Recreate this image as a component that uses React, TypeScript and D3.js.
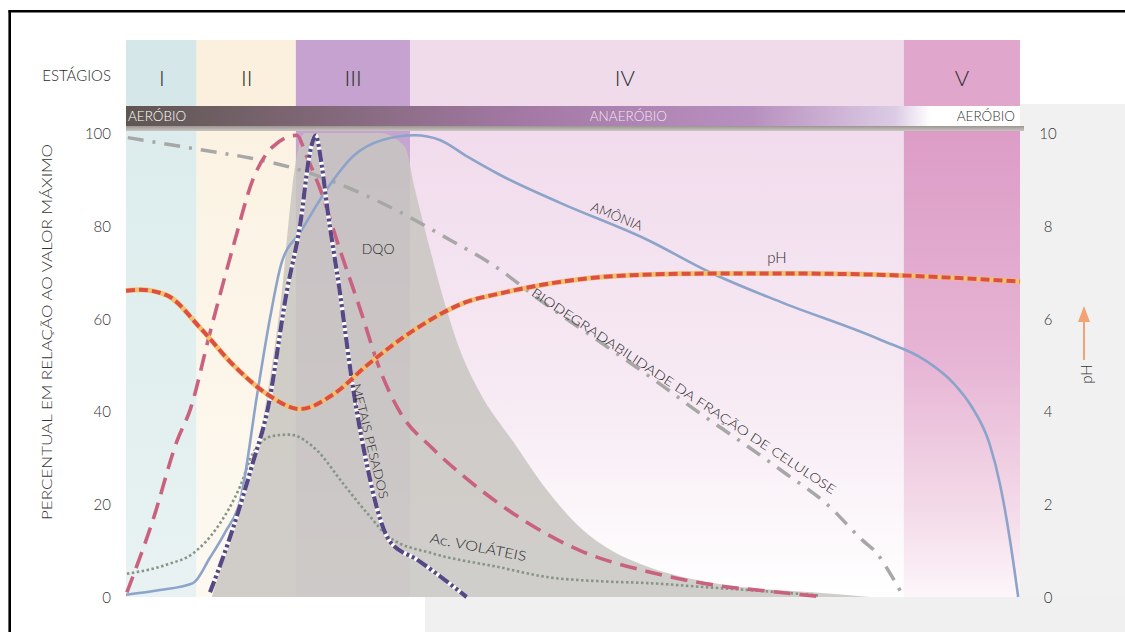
import React from 'react';
import * as d3 from 'd3';

const W = 1125;
const H = 632;

// stages (time in arbitrary units 0..100)
const stageNames = ['I', 'II', 'III', 'IV', 'V'];
const stageBounds = [0, 7.9, 19.0, 31.8, 87.0, 100];
const stageLabelT = [4.0, 13.5, 25.4, 55.8, 93.5];
const stageHeadColors = ['#d5e7e9', '#fbf0de', '#c5a2cf', '#f0dbeb', '#e0a6cb'];

const leftTicks = [0, 20, 40, 60, 80, 100];
const phTicks = [0, 2, 4, 6, 8, 10];

// Amônia (%)
const amoniaT = [0, 3.8, 7.5, 9.4, 11.1, 12.8, 14.7, 16.1, 17.4, 19.5, 22.5, 25.4, 28.7, 32.3, 35.1, 38.1, 41.8, 48.5, 58.3, 65.3, 73.2, 84.3, 89.4, 92.6, 94.6, 96.6, 97.8, 98.9, 99.8];
const amoniaV = [0.5, 1.5, 3, 8.5, 14, 21, 44, 60, 72, 78.6, 88, 95, 98.5, 99.5, 98.5, 95, 91, 85, 77, 70, 63.6, 55.5, 51, 46, 41, 33, 24, 12, 0];

// pH
const phT = [0, 1.6, 4.6, 8.3, 12.0, 15.8, 19.5, 23.2, 27.0, 32.6, 38.1, 41.8, 50.8, 58.6, 65.3, 75.4, 86.6, 95.5, 100];
const phV = [6.6, 6.62, 6.5, 5.8, 5.0, 4.37, 4.05, 4.37, 5.0, 5.8, 6.36, 6.54, 6.85, 6.95, 6.97, 6.97, 6.93, 6.85, 6.8];

// curva tracejada rosa (%)
const rosaT = [0.1, 3.0, 5.7, 7.2, 9.4, 12.0, 14.2, 16.4, 19.1, 20.2, 21.7, 23.9, 26.2, 28.4, 30.6, 34.3, 38.1, 44.1, 50.8, 58.3, 65.7, 72.1, 78.2];
const rosaV = [1, 16.5, 33.6, 40.5, 57, 75.6, 90, 97, 99.5, 95, 88, 75, 62, 49, 40, 32, 25.5, 17, 10, 5.5, 2.6, 1.2, 0];

// Metais pesados (%)
const metaisT = [9.4, 12.0, 14.2, 15.8, 18.0, 19.5, 20.6, 21.2, 21.9, 22.5, 23.9, 25.4, 27.0, 28.4, 29.5, 32.6, 35.1, 38.1];
const metaisV = [1, 15, 29, 40, 66, 80.5, 96, 99.5, 93, 84, 66, 45, 28, 17, 12, 8, 4.5, 0];

// Ác. voláteis (%)
const volateisT = [0.1, 4.6, 7.5, 10.2, 12.8, 14.2, 16.4, 18.3, 21.4, 24.3, 27.0, 29.5, 34.3, 41.8, 47.1, 53.0, 58.3, 65.7, 73.2, 77.6];
const volateisV = [5, 7, 9.4, 15, 24, 31, 34.7, 35, 31.5, 24.4, 18, 12.8, 9.4, 6.4, 4.3, 3.4, 3, 2, 1, 0.3];

// Biodegradabilidade da fração de celulose (%)
const biodegT = [0.2, 8.3, 13.9, 19.5, 25.1, 30.6, 36.2, 41.1, 46.3, 53.0, 60.1, 63.9, 68.7, 73.5, 78.4, 82.4, 84.0, 85.5, 87.0];
const biodegV = [99, 96.4, 94.6, 92, 88, 83, 77, 71.5, 64, 55, 45.4, 40, 33.6, 27, 20, 12.2, 9.4, 5, 0];

// DQO (%), área cinza
const dqoT = [9.6, 12.2, 15.0, 17.2, 19.1, 20.0, 28.4, 31.2, 32.3, 34.0, 35.7, 37.4, 39.6, 43.3, 47.1, 50.8, 54.5, 58.3, 65.7, 76.8, 83.2];
const dqoV = [0, 17, 35, 62, 95, 100, 100, 97, 88, 75, 63, 53, 44, 33.5, 23, 15, 9.8, 6.6, 3, 1, 0];

const FONT = 'Lato, "Open Sans", "DejaVu Sans", sans-serif';

const App: React.FC = () => {
  const x = d3.scaleLinear().domain([0, 100]).range([126, 1020]);
  const y = d3.scaleLinear().domain([0, 100]).range([597, 133]);
  const yPh = d3.scaleLinear().domain([0, 10]).range([597, 133]);

  const path = (ts: number[], vs: number[], sy: d3.ScaleLinear<number, number>) =>
    d3.line<number>()
      .x((_, i) => x(ts[i]))
      .y(d => sy(d))
      .curve(d3.curveMonotoneX)(vs) || '';

  const dqoArea = d3.area<number>()
    .x((_, i) => x(dqoT[i]))
    .y0(y(0))
    .y1(d => y(d))
    .curve(d3.curveMonotoneX)(dqoV) || '';

  const plotTop = y(100);
  const plotBottom = y(0);

  const label = (t: number, v: number, text: string, angle: number, size: number, len?: number) => {
    const px = x(t);
    const py = y(v);
    return (
      <text
        x={px}
        y={py}
        transform={`rotate(${angle},${px},${py})`}
        textAnchor="middle"
        dominantBaseline="central"
        fontSize={size}
        fontWeight={300}
        fill="#2b2b2b"
        textLength={len}
        lengthAdjust={len ? 'spacingAndGlyphs' : undefined}
      >
        {text}
      </text>
    );
  };

  return (
    <svg width={W} height={H} style={{ position: 'absolute', left: 0, top: 0, background: '#fff' }} fontFamily={FONT} fontWeight={300}>
      <defs>
        <linearGradient id="gI" x1="0" y1="0" x2="0" y2="1">
          <stop offset="0" stopColor="#dcecec" />
          <stop offset="1" stopColor="#e8f2f2" />
        </linearGradient>
        <linearGradient id="gII" x1="0" y1="0" x2="0" y2="1">
          <stop offset="0" stopColor="#fbf2e2" />
          <stop offset="1" stopColor="#fdf9f1" />
        </linearGradient>
        <linearGradient id="gIII" x1="0" y1="0" x2="0" y2="1">
          <stop offset="0" stopColor="#c6a3d0" />
          <stop offset="1" stopColor="#ebe0ee" />
        </linearGradient>
        <linearGradient id="gIV" x1="0" y1="0" x2="0" y2="1">
          <stop offset="0" stopColor="#f1dbec" />
          <stop offset="0.6" stopColor="#f7ebf4" />
          <stop offset="1" stopColor="#ffffff" />
        </linearGradient>
        <linearGradient id="gV" x1="0" y1="0" x2="0" y2="1">
          <stop offset="0" stopColor="#dc9cc6" />
          <stop offset="0.5" stopColor="#e7b5d5" />
          <stop offset="0.85" stopColor="#f5dfeb" />
          <stop offset="1" stopColor="#fdf6fa" />
        </linearGradient>
        <linearGradient id="gBar" x1="0" y1="0" x2="1" y2="0">
          <stop offset="0" stopColor="#5e5651" />
          <stop offset="0.2" stopColor="#7e6674" />
          <stop offset="0.45" stopColor="#a479a6" />
          <stop offset="0.7" stopColor="#b890bf" />
          <stop offset="0.86" stopColor="#dccbe4" />
          <stop offset="0.9" stopColor="#ffffff" />
          <stop offset="1" stopColor="#ffffff" />
        </linearGradient>
        <linearGradient id="gBarEdge" x1="0" y1="0" x2="0" y2="1">
          <stop offset="0" stopColor="#9c9591" />
          <stop offset="1" stopColor="#c9c5c2" />
        </linearGradient>
      </defs>

      {/* paper tone outside plot */}
      <rect x={1020} y={104} width={W - 1020} height={H - 104} fill="#f1f1f1" />
      <rect x={425} y={plotBottom} width={W - 425} height={H - plotBottom} fill="#f0f0f0" />

      {/* stage columns */}
      {stageNames.map((s, i) => (
        <g key={s}>
          <rect x={x(stageBounds[i])} y={40} width={x(stageBounds[i + 1]) - x(stageBounds[i])} height={67} fill={stageHeadColors[i]} />
          <rect x={x(stageBounds[i])} y={plotTop - 4} width={x(stageBounds[i + 1]) - x(stageBounds[i])} height={plotBottom - plotTop + 4} fill={`url(#g${s})`} />
          <text x={x(stageLabelT[i])} y={86} textAnchor="middle" fontSize={22} fill="#2e2e2e">{s}</text>
        </g>
      ))}
      <text x={111} y={81} textAnchor="end" fontSize={15} fill="#2b2b2b">ESTÁGIOS</text>

      {/* aerobic / anaerobic bar */}
      <rect x={x(0)} y={106} width={x(100) - x(0)} height={20} fill="url(#gBar)" />
      <rect x={x(0)} y={126} width={x(100) - x(0) + 4} height={5} fill="url(#gBarEdge)" />
      <text x={x(0) + 2} y={121} fontSize={13.5} fill="#ffffff">AERÓBIO</text>
      <text x={x(56.2)} y={121} fontSize={13.5} textAnchor="middle" fill="#f4e2f1">ANAERÓBIO</text>
      <text x={x(100) - 5} y={121} fontSize={13.5} textAnchor="end" fill="#333">AERÓBIO</text>

      {/* DQO area */}
      <path d={dqoArea} fill="#c8c6c1" opacity={0.85} />

      {/* curves */}
      <path d={path(biodegT, biodegV, y)} fill="none" stroke="#a7a7a7" strokeWidth={3.5} strokeDasharray="16 9 3 9" />
      <path d={path(volateisT, volateisV, y)} fill="none" stroke="#879585" strokeWidth={2.6} strokeDasharray="2.5 2.5" />
      <path d={path(rosaT, rosaV, y)} fill="none" stroke="#c9617f" strokeWidth={3.6} strokeDasharray="17 9" />
      <path d={path(amoniaT, amoniaV, y)} fill="none" stroke="#8ca4c9" strokeWidth={2.6} />
      <path d={path(metaisT, metaisV, y)} fill="none" stroke="#ffffff" strokeWidth={4.2} />
      <path d={path(metaisT, metaisV, y)} fill="none" stroke="#564884" strokeWidth={4.2} strokeDasharray="12 3 3 3 3 3" />
      <path d={path(phT, phV, yPh)} fill="none" stroke="#f2c16c" strokeWidth={5} />
      <path d={path(phT, phV, yPh)} fill="none" stroke="#de4f43" strokeWidth={4} strokeDasharray="9 4" />

      {/* curve labels */}
      {label(28.2, 75.2, 'DQO', 0, 14)}
      {label(54.9, 82.1, 'AMÔNIA', 22, 13.5)}
      {label(72.8, 73.3, 'pH', 0, 15)}
      {label(62.4, 44.4, 'BIODEGRADABILIDADE DA FRAÇÃO DE CELULOSE', 33.5, 12.5, 362)}
      {label(27.3, 33.6, 'METAIS PESADOS', 76, 12.5, 118)}
      {label(39.4, 10.8, 'Ac. VOLÁTEIS', 11, 13.5, 98)}

      {/* left axis */}
      {leftTicks.map(t => (
        <text key={t} x={111} y={y(t)} textAnchor="end" dominantBaseline="central" fontSize={15} fill="#333">{t}</text>
      ))}
      <text
        x={46}
        y={332}
        transform="rotate(-90,46,332)"
        textAnchor="middle"
        dominantBaseline="central"
        fontSize={14.5}
        fill="#333"
        textLength={376}
        lengthAdjust="spacingAndGlyphs"
      >
        PERCENTUAL EM RELAÇÃO AO VALOR MÁXIMO
      </text>

      {/* right axis (pH) */}
      {phTicks.map(t => (
        <text key={t} x={1048} y={yPh(t)} textAnchor="middle" dominantBaseline="central" fontSize={15} fill="#333">{t}</text>
      ))}
      <line x1={1084} y1={360} x2={1084} y2={318} stroke="#f0a374" strokeWidth={2} />
      <path d="M1078,322 L1084,306 L1090,322 Z" fill="#f0a374" />
      <text x={1086} y={374} transform="rotate(-90,1086,374)" textAnchor="middle" dominantBaseline="central" fontSize={15} fill="#333">pH</text>

      {/* frame */}
      <line x1={8.5} y1={11.3} x2={W} y2={11.3} stroke="#000" strokeWidth={2.6} />
      <line x1={9.7} y1={10} x2={9.7} y2={H} stroke="#000" strokeWidth={2.6} />
    </svg>
  );
};

export default App;
